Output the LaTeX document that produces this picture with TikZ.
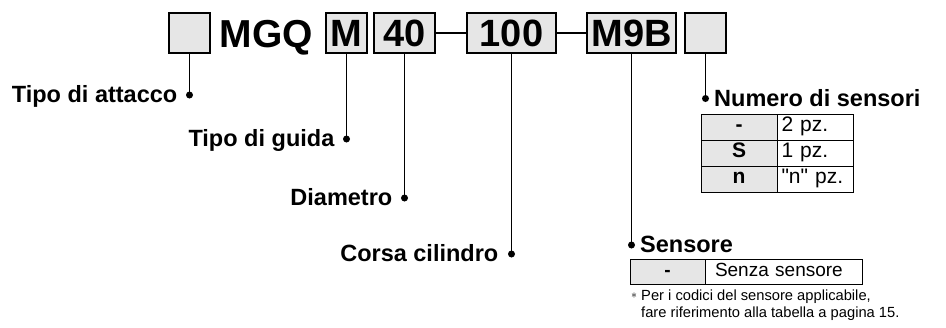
\documentclass[tikz,border=0pt]{standalone}
\usepackage{fontspec}
\setmainfont{Liberation Sans}
\definecolor{boxgrey}{HTML}{E6E6E6}
\newcommand{\straightquote}{\XeTeXglyph\XeTeXcharglyph"22\relax}
\begin{document}
\begin{tikzpicture}[x=1pt,y=-1pt,
  codebox/.style={draw, line width=1.8pt, fill=boxgrey, inner sep=0pt, minimum height=40pt,
    font=\fontsize{38}{38}\selectfont\bfseries},
  conn/.style={line width=1.8pt},
  dotn/.style={circle, fill=black, inner sep=0pt, minimum size=7pt},
  lbl/.style={inner sep=0pt, font=\fontsize{23.5}{23.5}\selectfont\bfseries},
  keycell/.style={draw, line width=1pt, fill=boxgrey, inner sep=0pt, text height=13pt, text depth=4pt,
    font=\fontsize{21}{21}\selectfont\bfseries},
  valcell/.style={draw, line width=1pt, fill=white, inner ysep=0pt, text height=13pt, text depth=4pt,
    align=left, font=\fontsize{21}{21}\selectfont},
  notetext/.style={inner sep=0pt, font=\fontsize{14.7}{17}\selectfont}
]
\useasboundingbox[fill=white] (0,0) rectangle (946,327);

% code boxes
\node[codebox, minimum width=41pt] (b0) at (189.5,33) {};
\node[inner sep=0pt, anchor=base, font=\fontsize{39}{39}\selectfont\bfseries] (mgq) at (266.5,47) {MGQ};
\node[codebox, minimum width=41pt] (bM) at (346.5,33) {M};
\node[codebox, minimum width=61pt] (b40) at (404.5,33) {40};
\node[codebox, minimum width=89pt] (b100) at (511.5,33) {100};
\node[codebox, minimum width=89pt] (bM9B) at (631.5,33) {M9B};
\node[codebox, minimum width=41pt] (bL) at (705.5,33) {};

\draw[conn] (b40.east) -- (b100.west);
\draw[conn] (b100.east) -- (bM9B.west);

% dots
\node[dotn] (d0) at (189.5,95) {};
\node[dotn] (dM) at (346.5,139) {};
\node[dotn] (d40) at (404.5,198) {};
\node[dotn] (d100) at (511.5,254) {};
\node[dotn] (dM9B) at (631.5,245) {};
\node[dotn] (dL) at (705.5,98.5) {};

\draw[conn] (b0.south) -- (d0.center);
\draw[conn] (bM.south) -- (dM.center);
\draw[conn] (b40.south) -- (d40.center);
\draw[conn] (b100.south) -- (d100.center);
\draw[conn] (bM9B.south) -- (dM9B.center);
\draw[conn] (bL.south) -- (dL.center);

% labels
\node[lbl, anchor=base east] (l0) at (177.5,102.5) {Tipo di attacco};
\node[lbl, anchor=base east] (lM) at (334.5,146.5) {Tipo di guida};
\node[lbl, anchor=base east] (l40) at (392.5,205.5) {Diametro};
\node[lbl, anchor=base east] (l100) at (498.5,261.5) {Corsa cilindro};
\node[lbl, anchor=base west] (lM9B) at (640,252) {Sensore};
\node[lbl, anchor=base west] (lL) at (714,106) {Numero di sensori};

% Numero di sensori table
\node[keycell, minimum width=76pt, minimum height=26pt] (n1a) at (739,127) {-};
\node[valcell, text width=67pt, inner xsep=4.5pt, minimum height=26pt] (n1b) at (815,127) {2 pz.};
\node[keycell, minimum width=76pt, minimum height=26pt] (n2a) at (739,153) {S};
\node[valcell, text width=67pt, inner xsep=4.5pt, minimum height=26pt] (n2b) at (815,153) {1 pz.};
\node[keycell, minimum width=76pt, minimum height=26pt] (n3a) at (739,179) {n};
\node[valcell, text width=67pt, inner xsep=4.5pt, minimum height=26pt] (n3b) at (815,179) {\straightquote n\straightquote\ pz.};

% Sensore table
\node[keycell, minimum width=75pt, minimum height=25pt, font=\fontsize{19}{19}\selectfont\bfseries] (s1a) at (667.5,271.5) {-};
\node[valcell, text width=137pt, inner xsep=10pt, minimum height=25pt, font=\fontsize{19}{19}\selectfont] (s1b) at (783.5,271.5) {Senza sensore};

% note
\node[inner sep=0pt, font=\fontsize{12}{12}\selectfont] (ast) at (634,295.5) {$\ast$};
\node[notetext, anchor=base west] (nt1) at (641,300.5) {Per i codici del sensore applicabile,};
\node[notetext, anchor=base west] (nt2) at (641,317.5) {fare riferimento alla tabella a pagina 15.};
\end{tikzpicture}
\end{document}
